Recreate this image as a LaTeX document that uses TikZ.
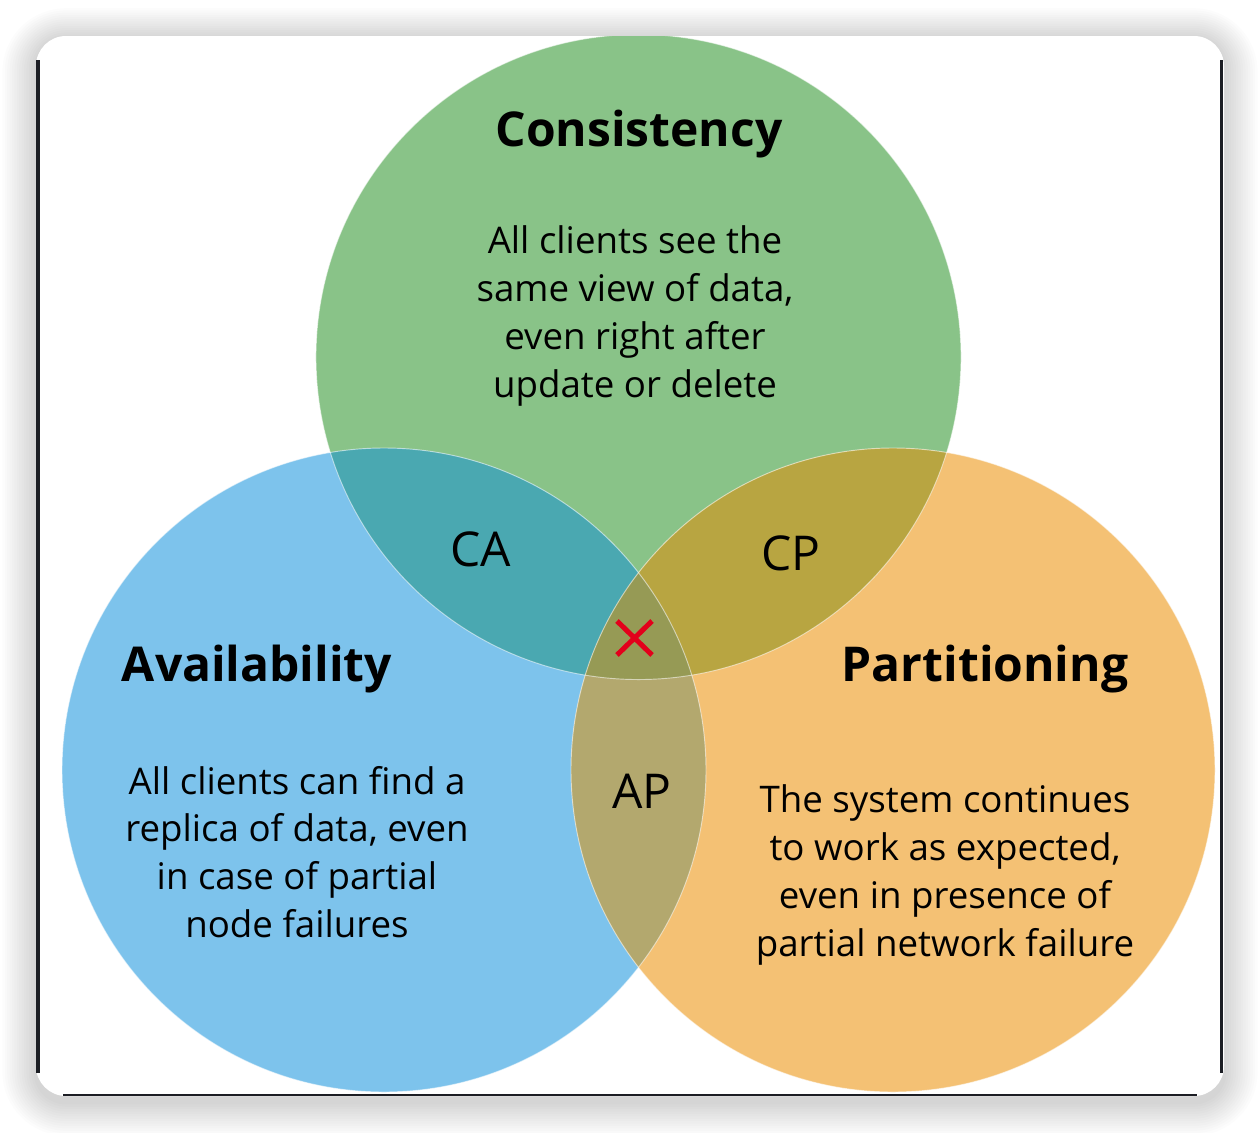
\documentclass[tikz,border=0pt]{standalone}
\usepackage{fontspec}
\setmainfont{Open Sans}
\definecolor{colgreen}{HTML}{89C388}
\definecolor{colblue}{HTML}{7DC3EC}
\definecolor{colorange}{HTML}{F4C174}
\definecolor{colCA}{HTML}{4AA8B1}
\definecolor{colCP}{HTML}{B8A541}
\definecolor{colAP}{HTML}{B3A86E}
\definecolor{colcenter}{HTML}{969A55}
\definecolor{coledge}{HTML}{1C1E24}
\definecolor{colX}{HTML}{E3001B}
\tikzset{
  titletext/.style={font=\fontsize{36pt}{40pt}\selectfont\bfseries, text=black, inner sep=0pt},
  bodytext/.style={font=\fontsize{27.5pt}{35.8pt}\selectfont, text=black, align=center, inner sep=0pt},
  pairtext/.style={font=\fontsize{36pt}{40pt}\selectfont, text=black, inner sep=0pt},
}
\begin{document}
\begin{tikzpicture}[x=0.75pt,y=-0.75pt]
\useasboundingbox (0,0) rectangle (1260,1132);
\fill[white] (0,0) rectangle (1260,1132);
% shadow
\foreach \i in {1,...,14}{
  \fill[black, opacity=0.011, rounded corners=22.5pt+1.8pt*\i]
    (36-2.4*\i,36-2.2*\i+3) rectangle (1224+2.4*\i,1096+2.4*\i+6);
}
\fill[white, rounded corners=22.5pt] (36,36) rectangle (1224,1096);
\begin{scope}
  \clip[rounded corners=22.5pt] (36,36) rectangle (1224,1096);
  \fill[colgreen] (638.5,357) circle[radius=241.9pt];
  \fill[colblue] (384,770) circle[radius=241.5pt];
  \fill[colorange] (893,770) circle[radius=241.5pt];
  \begin{scope}
    \clip (638.5,357) circle[radius=241.9pt];
    \fill[colCA] (384,770) circle[radius=241.5pt];
    \fill[colCP] (893,770) circle[radius=241.5pt];
  \end{scope}
  \begin{scope}
    \clip (384,770) circle[radius=241.5pt];
    \fill[colAP] (893,770) circle[radius=241.5pt];
  \end{scope}
  \begin{scope}
    \clip (638.5,357) circle[radius=241.9pt];
    \clip (384,770) circle[radius=241.5pt];
    \fill[colcenter] (893,770) circle[radius=241.5pt];
  \end{scope}
  \draw[white, opacity=0.55, line width=0.7pt] (638.5,357) circle[radius=241.9pt];
  \draw[white, opacity=0.55, line width=0.7pt] (384,770) circle[radius=241.5pt];
  \draw[white, opacity=0.55, line width=0.7pt] (893,770) circle[radius=241.5pt];
\end{scope}
% window edges
\draw[coledge, line width=2.6pt] (38,60) -- (38,1073);
\draw[coledge, line width=2.6pt] (1221.5,60) -- (1221.5,1073);
\draw[coledge, line width=1.2pt] (63,1095.2) -- (1197,1095.2);
% texts
\node[titletext] (tC) at (639,134) {Consistency};
\node[bodytext] (bC) at (635,316) {All clients see the\\same view of data,\\even right after\\update or delete};
\node[titletext] (tA) at (257,669) {Availability};
\node[bodytext] (bA) at (297,852) {All clients can find a\\replica of data, even\\in case of partial\\node failures};
\node[titletext] (tP) at (985,669) {Partitioning};
\node[bodytext] (bP) at (945,875) {The system continues\\to work as expected,\\even in presence of\\partial network failure};
\node[pairtext] (ca) at (481,549) {CA};
\node[pairtext] (cp) at (791,553) {CP};
\node[pairtext] (ap) at (642,791) {AP};
\coordinate (x1) at (617,621);
\coordinate (x2) at (652,655);
\coordinate (x3) at (652,621);
\coordinate (x4) at (617,655);
\draw[colX, line width=3.8pt] (x1) -- (x2);
\draw[colX, line width=3.8pt] (x3) -- (x4);
\end{tikzpicture}
\end{document}
